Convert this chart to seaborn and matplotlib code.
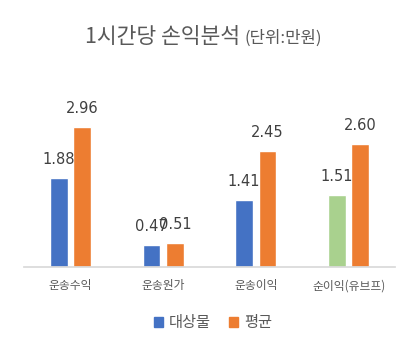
import pandas as pd
import seaborn as sns
import matplotlib.pyplot as plt
from matplotlib.patches import Patch

# Chart values (단위: 만원)
categories = ['운송수익', '운송원가', '운송이익', '순이익(유브프)']
target_vals = [1.88, 0.47, 1.41, 1.51]
avg_vals = [2.96, 0.51, 2.45, 2.60]
series_names = ['대상물', '평균']

df = pd.DataFrame({
    'category': categories * 2,
    'value': target_vals + avg_vals,
    'series': [series_names[0]] * 4 + [series_names[1]] * 4,
})

sns.set_theme(style='white')
plt.rcParams['font.family'] = ['Noto Sans CJK KR', 'DejaVu Sans']

blue, orange, green = '#4472C4', '#ED7D31', '#A9D18E'
text_gray = '#595959'

fig = plt.figure(figsize=(4.18, 3.52), dpi=100)
ax = fig.add_axes([24 / 418, 85 / 352, 371 / 418, 166 / 352])

sns.barplot(data=df, x='category', y='value', hue='series', order=categories,
            hue_order=series_names, palette=[blue, orange], width=0.505, gap=0.24,
            saturation=1, legend=False, ax=ax)

# last blue bar is drawn green in the reference
ax.containers[0].patches[3].set_facecolor(green)

for cont in ax.containers:
    ax.bar_label(cont, fmt='%.2f', padding=8, fontsize=10.5, color='#404040',
                 family=['DejaVu Sans'])

ax.set_ylim(0, 3.5)
ax.set_xlim(-0.5, 3.5)
ax.set_xlabel('')
ax.set_ylabel('')
ax.set_yticks([])
ax.tick_params(axis='x', length=0, pad=9, labelsize=8.5, labelcolor=text_gray)
for s in ['top', 'left', 'right']:
    ax.spines[s].set_visible(False)
ax.spines['bottom'].set_color('#D9D9D9')

# title: main part + smaller unit
t1 = fig.text(85 / 418, 1 - 37 / 352, '1시간당 손익분석', fontsize=15.5,
              color=text_gray, ha='left', va='center')
r = fig.canvas.get_renderer()
bb = t1.get_window_extent(renderer=r)
fig.text((bb.x1 + 5) / fig.bbox.width, 1 - 38 / 352, '(단위:만원)', fontsize=12,
         color=text_gray, ha='left', va='center')

handles = [Patch(color=blue, label=series_names[0]),
           Patch(color=orange, label=series_names[1])]
fig.legend(handles=handles, loc='center', bbox_to_anchor=(213 / 418, 1 - 323 / 352),
           ncol=2, frameon=False, fontsize=11, labelcolor=text_gray,
           handlelength=0.6, handleheight=0.6, handletextpad=0.4, columnspacing=1.2)

plt.savefig('out.png', dpi=100)
